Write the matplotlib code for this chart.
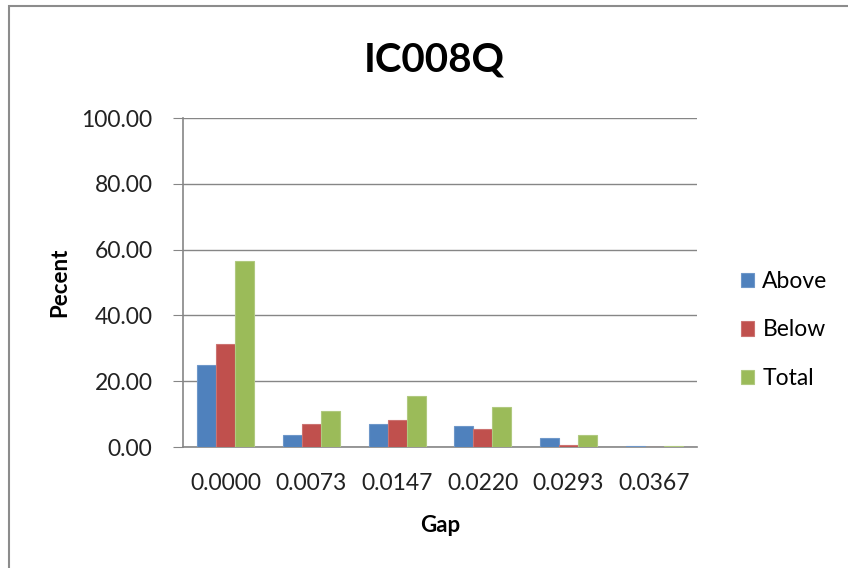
import matplotlib
matplotlib.use("Agg")
import matplotlib.pyplot as plt
import numpy as np
from matplotlib.patches import Rectangle

categories = ["0.0000", "0.0073", "0.0147", "0.0220", "0.0293", "0.0367"]
above = [25.0, 3.6, 7.1, 6.3, 2.8, 0.4]
below = [31.2, 7.0, 8.2, 5.5, 0.5, 0.0]
total = [56.4, 10.8, 15.5, 12.1, 3.5, 0.4]
series_names = ["Above", "Below", "Total"]
colors = ["#4F81BD", "#C0504D", "#9BBB59"]
edges = ["#6E97C9", "#CC7371", "#B0C97F"]

plt.rcParams["font.family"] = ["Lato", "DejaVu Sans"]
W, H = 848, 568

fig = plt.figure(figsize=(W / 100, H / 100), dpi=100)
fig.patch.set_facecolor("white")

# chart frame
fig.patches.append(Rectangle((8.5 / W, -0.05), 1.2, 1 - 6 / H + 0.05,
                             transform=fig.transFigure, fill=False,
                             edgecolor="#8C8C8C", linewidth=1.5))

left, right, top, bottom = 183, 697, 118, 447
ax = fig.add_axes([left / W, 1 - bottom / H, (right - left) / W, (bottom - top) / H])

x = np.arange(len(categories))
bw = 1 / (3 + 1.5)
for i, (vals, name) in enumerate(zip([above, below, total], series_names)):
    ax.bar(x + (i - 1) * bw, vals, width=bw, color=colors[i], edgecolor=edges[i],
           linewidth=0.8, label=name, zorder=3)

ax.set_xlim(-0.5, len(categories) - 0.5)
ax.set_ylim(0, 100)
yt = np.arange(0, 101, 20)
ax.set_yticks(yt)
ax.set_yticklabels([f"{v:.2f}" for v in yt], fontsize=16.5, color="#222222")
ax.set_xticks(x)
ax.set_xticklabels(categories, fontsize=16.5, color="#222222")
ax.tick_params(axis="y", length=7, color="#868686", pad=15)
ax.tick_params(axis="x", length=0, pad=19)
ax.grid(axis="y", color="#868686", linewidth=1, zorder=0)
for s in ["top", "right"]:
    ax.spines[s].set_visible(False)
for s in ["left", "bottom"]:
    ax.spines[s].set_color("#868686")
    ax.spines[s].set_linewidth(1.2)

ax.set_ylabel("Pecent", fontsize=16, fontweight="bold")
ax.set_xlabel("Gap", fontsize=16, fontweight="bold")
ax.yaxis.set_label_coords((60 - left) / (right - left), 0.5)
ax.xaxis.set_label_coords(0.5, (bottom - 525) / (bottom - top))
ax.xaxis.label.set_va("center")
ax.yaxis.label.set_va("center")

fig.text(434 / W, 1 - 60 / H, "IC008Q", fontsize=29, fontweight="bold",
         ha="center", va="center")

fig.legend(loc="center left", bbox_to_anchor=(720 / W, 1 - 330 / H), frameon=False,
           fontsize=16.5, handlelength=0.6, handleheight=0.6, handletextpad=0.35,
           labelspacing=1.2)

fig.savefig("out.png", dpi=100, facecolor="white")
